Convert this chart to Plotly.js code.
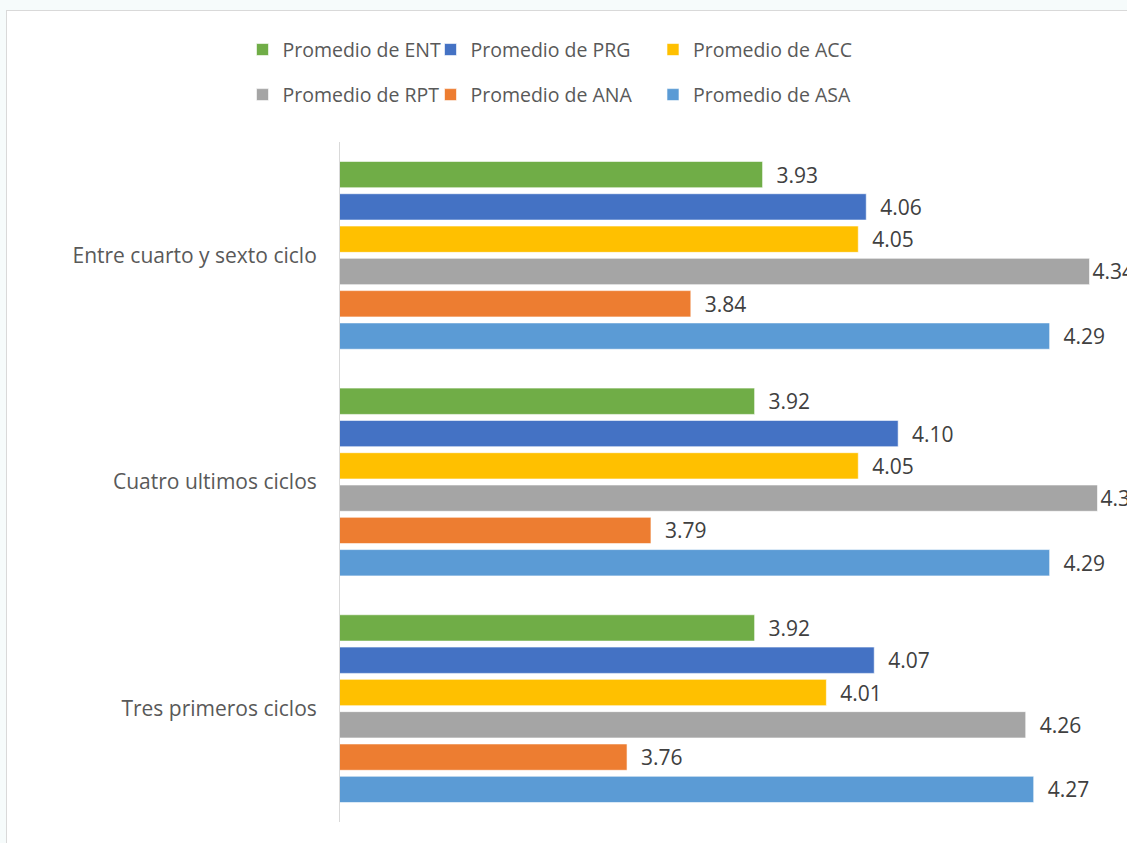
<!DOCTYPE html>
<html>
<head>
<meta charset="utf-8">
<script src="https://cdn.plot.ly/plotly-3.0.1.min.js"></script>
<style>
  html, body { margin: 0; padding: 0; background: #f6fbfb; width: 1127px; height: 843px; overflow: hidden; }
  #frame { position: absolute; left: 6px; top: 10px; width: 1140px; height: 850px; background: #ffffff; border: 1px solid #d9d9d9; }
  #chart { position: absolute; left: 0; top: 0; width: 1127px; height: 843px; }
</style>
</head>
<body>
<div id="frame"></div>
<div id="chart"></div>
<script>
const categories = ["Entre cuarto y sexto ciclo", "Cuatro ultimos ciclos", "Tres primeros ciclos"];
const seriesNames = ["Promedio de ENT", "Promedio de PRG", "Promedio de ACC", "Promedio de RPT", "Promedio de ANA", "Promedio de ASA"];
const ENT = [3.93, 3.92, 3.92];
const PRG = [4.06, 4.10, 4.07];
const ACC = [4.05, 4.05, 4.01];
const RPT = [4.34, 4.35, 4.26];
const ANA = [3.84, 3.79, 3.76];
const ASA = [4.29, 4.29, 4.27];
const seriesValues = [ENT, PRG, ACC, RPT, ANA, ASA];
const colors = ["#70AD47", "#4472C4", "#FFC000", "#A5A5A5", "#ED7D31", "#5B9BD5"];

const FONT = "Open Sans, Noto Sans, sans-serif";
const legendKeys = ["legend", "legend2", "legend3", "legend4", "legend5", "legend6"];
const X_RANGE = [3.4, 4.387];

// labels that would run past the right edge hug the bar end (as in the original)
function labelTemplate(v) {
  return (X_RANGE[1] - v) * 795 < 60 ? "%{x:.2f}" : "\u00a0\u00a0%{x:.2f}";
}

const traces = seriesNames.map((name, i) => ({
  type: "bar",
  orientation: "h",
  name: name,
  y: categories,
  x: seriesValues[i],
  marker: { color: colors[i], line: { color: "rgba(255,255,255,0.6)", width: 1 } },
  texttemplate: seriesValues[i].map(labelTemplate),
  textposition: "outside",
  constraintext: "none",
  cliponaxis: false,
  textfont: { family: FONT, size: 21, color: "#404040" },
  legend: legendKeys[i],
  hoverinfo: "x+name"
}));

// legend placement (paper coords)
const colX = [-0.1239, 0.1150, 0.3977];
const rowY = [1.1355, 1.0692];
function legendCfg(col, row) {
  return {
    orientation: "h",
    x: colX[col], xanchor: "left",
    y: rowY[row], yanchor: "middle",
    bgcolor: "rgba(0,0,0,0)",
    font: { family: FONT, size: 19.5, color: "#595959" }
  };
}

const layout = {
  width: 1127,
  height: 843,
  margin: { l: 340, r: 0, t: 142, b: 21 },
  paper_bgcolor: "rgba(0,0,0,0)",
  plot_bgcolor: "rgba(0,0,0,0)",
  barmode: "group",
  bargap: 0.145,
  bargroupgap: 0.185,
  showlegend: true,
  legend: legendCfg(0, 0),
  legend2: legendCfg(1, 0),
  legend3: legendCfg(2, 0),
  legend4: legendCfg(0, 1),
  legend5: legendCfg(1, 1),
  legend6: legendCfg(2, 1),
  xaxis: {
    range: X_RANGE,
    showgrid: false, zeroline: false, showline: false,
    showticklabels: false, ticks: ""
  },
  yaxis: {
    autorange: "reversed",
    showline: true, linecolor: "#d9d9d9", linewidth: 1,
    showgrid: false, zeroline: false,
    ticks: "",
    ticklabelstandoff: 18,
    tickfont: { family: FONT, size: 21, color: "#595959" }
  },
  font: { family: FONT }
};

Plotly.newPlot("chart", traces, layout, { displayModeBar: false, staticPlot: true });
</script>
</body>
</html>
